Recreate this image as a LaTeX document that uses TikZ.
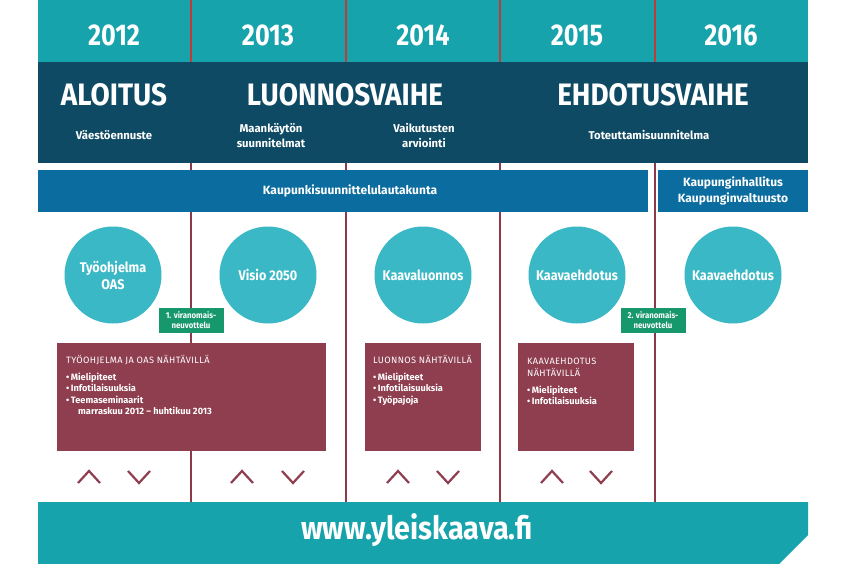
\documentclass[tikz,border=0pt]{standalone}
\usepackage{fontspec}
\setmainfont{Fira Sans}
\newfontfamily\hdfont[FakeStretch=0.84]{Fira Sans}
\newfontfamily\phfont[FakeStretch=0.9]{Fira Sans}
\newfontfamily\txfont[FakeStretch=0.92]{Fira Sans}
\newfontfamily\bxfont{Fira Sans}
\newfontfamily\bxtitle[LetterSpace=4]{Fira Sans}
\definecolor{tealband}{HTML}{17A3AC}
\definecolor{petrol}{HTML}{0E4A63}
\definecolor{kblue}{HTML}{0B6C9F}
\definecolor{circfill}{HTML}{3AB8C5}
\definecolor{tagfill}{HTML}{16976C}
\definecolor{boxfill}{HTML}{8E3E4E}
\definecolor{divred}{HTML}{C23A35}
\definecolor{divline}{HTML}{8A3A48}
\tikzset{
  year/.style={text=white,font=\hdfont\bfseries\fontsize{30}{32}\selectfont,inner sep=0},
  phase/.style={text=white,font=\phfont\bfseries\fontsize{31}{33}\selectfont,inner sep=0},
  sub/.style={text=white,font=\bxfont\bfseries\fontsize{11.3}{15}\selectfont,align=center,inner sep=0},
  band/.style={text=white,font=\bxfont\bfseries\fontsize{12}{16}\selectfont,align=center,inner sep=0},
  circ/.style={circle,fill=circfill,minimum size=97pt,inner sep=0,text=white,
    font=\phfont\bfseries\fontsize{14}{17}\selectfont,align=center},
  tag/.style={fill=tagfill,minimum width=65pt,minimum height=25pt,inner sep=0,text=white,
    font=\txfont\bfseries\fontsize{8.5}{10}\selectfont,align=center},
  boxtext/.style={text=white,font=\bxfont\fontsize{9.2}{11.5}\selectfont,align=left,inner sep=0,anchor=north west},
  divider/.style={draw=divline,line width=2pt},
  topdiv/.style={draw=divred,line width=1.2pt},
  chev/.style={draw=boxfill,line width=2.2pt,line join=miter},
}
\begin{document}
\begin{tikzpicture}[x=1pt,y=-1pt]
\useasboundingbox (0,0) rectangle (845,564);
\fill[white] (0,0) rectangle (845,564);
% top band
\fill[tealband] (38,0) rectangle (808,62);
% dividers
\foreach \x in {191,346,500,655}{
  \draw[divider] (\x,62) -- (\x,502);
  \draw[topdiv] (\x,0) -- (\x,62);
}
% years
\node[year] (y12) at (114,35) {2012};
\node[year] (y13) at (268,35) {2013};
\node[year] (y14) at (423,35) {2014};
\node[year] (y15) at (577,35) {2015};
\node[year] (y16) at (731,35) {2016};
% dark band
\fill[petrol] (38,62) rectangle (808,163);
\node[phase] (p1) at (114,95) {ALOITUS};
\node[phase] (p2) at (345,95) {LUONNOSVAIHE};
\node[phase] (p3) at (653,95) {EHDOTUSVAIHE};
\node[sub] (s1) at (114,135) {Väestöennuste};
\node[sub] (s2) at (271,135.5) {Maankäytön\\suunnitelmat};
\node[sub] (s3) at (424,135.5) {Vaikutusten\\arviointi};
\node[sub] (s4) at (649,135) {Toteuttamisuunnitelma};
% committee bands
\fill[kblue] (38,170) rectangle (648,212);
\fill[kblue] (658,170) rectangle (808,212);
\node[band] (k1) at (350,191) {Kaupunkisuunnittelulautakunta};
\node[band] (k2) at (733,191) {Kaupunginhallitus\\Kaupunginvaltuusto};
% circles
\node[circ] (c1) at (113,275) {Työohjelma\\OAS};
\node[circ] (c2) at (268,275) {Visio 2050};
\node[circ] (c3) at (423,275) {Kaavaluonnos};
\node[circ] (c4) at (577,275) {Kaavaehdotus};
\node[circ] (c5) at (733,275) {Kaavaehdotus};
% tags
\node[tag] (t1) at (191,320.5) {1. viranomais-\\neuvottelu};
\node[tag] (t2) at (653,320.5) {2. viranomais-\\neuvottelu};
% maroon boxes
\fill[boxfill] (57,343) rectangle (326,451);
\fill[boxfill] (365,343) rectangle (481,451);
\fill[boxfill] (518,343) rectangle (634,451);
\node[boxtext] (b1) at (66,355) {{\bxtitle TYÖOHJELMA JA OAS NÄHTÄVILLÄ}\\[5.5pt]
  \bfseries•\,Mielipiteet\\ \bfseries•\,Infotilaisuuksia\\ \bfseries•\,Teemaseminaarit\\
  \bfseries\hspace*{12pt}marraskuu 2012 – huhtikuu 2013};
\node[boxtext] (b2) at (373,355) {{\bxtitle LUONNOS NÄHTÄVILLÄ}\\[5.5pt]
  \bfseries•\,Mielipiteet\\ \bfseries•\,Infotilaisuuksia\\ \bfseries•\,Työpajoja};
\node[boxtext] (b3) at (527,358) {{\bxtitle KAAVAEHDOTUS}\\
  {\bxtitle NÄHTÄVILLÄ}\\[5.5pt]
  \bfseries•\,Mielipiteet\\ \bfseries•\,Infotilaisuuksia};
% chevrons
\foreach \u/\d in {89/139,242/293,398/448,552/601}{
  \draw[chev] (\u-11,483) -- (\u,471) -- (\u+11,483);
  \draw[chev] (\d-11,471) -- (\d,483) -- (\d+11,471);
}
% bottom band
\fill[tealband] (38,502) -- (808,502) -- (808,535) -- (779,564) -- (38,564) -- cycle;
\node[text=white,font=\phfont\bfseries\fontsize{32}{34}\selectfont,inner sep=0] (url) at (417,530) {www.yleiskaava.fi};
\end{tikzpicture}
\end{document}
